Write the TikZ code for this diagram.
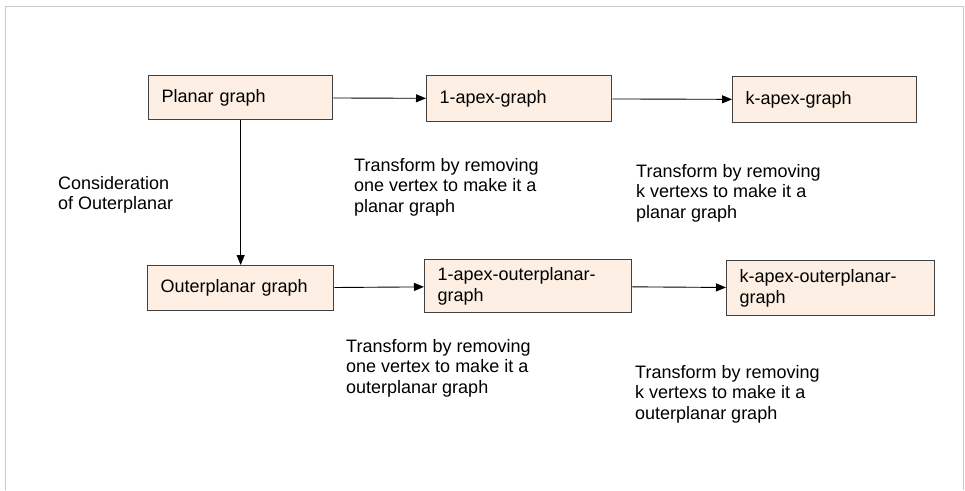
\documentclass[tikz,border=0pt]{standalone}
\usepackage{fontspec}
\setmainfont{Liberation Sans}
\usetikzlibrary{arrows.meta}
\definecolor{boxfill}{RGB}{253,239,227}
\definecolor{boxline}{RGB}{64,64,64}
\definecolor{framegray}{RGB}{200,200,200}
\tikzset{
  box/.style={draw=boxline, line width=1.3pt, fill=boxfill, anchor=north west,
    align=left, inner xsep=13pt, inner ysep=0pt, font=\fontsize{18}{21}\selectfont},
  note/.style={anchor=north west, align=left, inner sep=0pt,
    font=\fontsize{18}{20.5}\selectfont},
  conn/.style={draw=black, line width=0.9pt, -{Triangle[length=10pt,width=8pt]}}
}
\begin{document}
\begin{tikzpicture}[x=1pt,y=-1pt]
\useasboundingbox (0,0) rectangle (965,490);
\draw[framegray, line width=1pt] (5,490) -- (5,6) -- (963,6) -- (963,490);

\node[box, text width=158pt, minimum height=44pt] (planar) at (148,75) {Planar graph};
\node[box, text width=159pt, minimum height=46pt] (apex1) at (426,75) {1-apex-graph};
\node[box, text width=158pt, minimum height=46pt] (apexk) at (732,76) {k-apex-graph};
\node[box, text width=160pt, minimum height=45pt] (outer) at (147,265) {Outerplanar graph};
\node[box, text width=181pt, minimum height=53pt] (apex1o) at (424,259) {1-apex-outerplanar-\\graph};
\node[box, text width=182pt, minimum height=55pt] (apexko) at (726,260) {k-apex-outerplanar-\\graph};

\draw[conn] (planar) -- (apex1);
\draw[conn] (apex1) -- (apexk);
\draw[conn] (planar) -- (outer);
\draw[conn] (outer) -- (apex1o);
\draw[conn] (apex1o) -- (apexko);

\node[note] (cons) at (58,176) {Consideration\\of Outerplanar};
\node[note] (t1) at (354,158) {Transform by removing\\one vertex to make it a\\planar graph};
\node[note] (tk) at (636,164) {Transform by removing\\k vertexs to make it a\\planar graph};
\node[note] (t1o) at (346,339) {Transform by removing\\one vertex to make it a\\outerplanar graph};
\node[note] (tko) at (635,365) {Transform by removing\\k vertexs to make it a\\outerplanar graph};
\end{tikzpicture}
\end{document}
